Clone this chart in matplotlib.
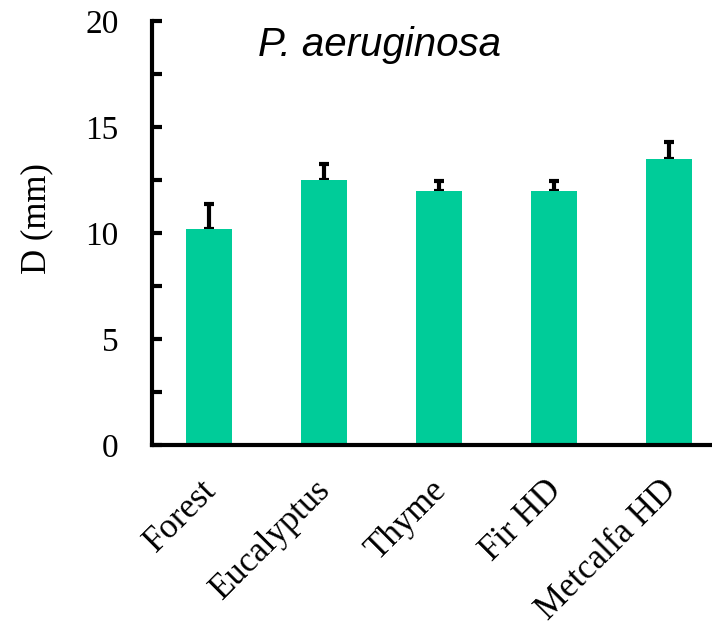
import numpy as np
import matplotlib
matplotlib.use("Agg")
from matplotlib import pyplot as plt
from matplotlib.transforms import ScaledTranslation

categories = ["Forest", "Eucalyptus", "Thyme", "Fir HD", "Metcalfa HD"]
values = [10.2, 12.5, 12.0, 12.0, 13.5]
errors = [1.15, 0.75, 0.45, 0.45, 0.8]
bar_color = "#00CC99"

fig = plt.figure(figsize=(7.12, 6.25), dpi=100)
ax = fig.add_axes([152 / 712, 1 - 445 / 625, 560 / 712, 424 / 625])

x = np.arange(len(categories))
ax.bar(x, values, width=0.4, color=bar_color, zorder=2)
ax.errorbar(x, values, yerr=[np.zeros(len(errors)), errors], fmt="none",
            ecolor="black", elinewidth=3, capsize=3.5, capthick=3, zorder=1)

ax.set_xlim(-0.5, 4.37)
ax.set_ylim(0, 20)

for side in ["top", "right"]:
  ax.spines[side].set_visible(False)
ax.spines["left"].set_linewidth(3)
ax.spines["bottom"].set_linewidth(3)

ax.set_yticks([0, 5, 10, 15, 20])
ax.set_yticks([2.5, 7.5, 12.5, 17.5], minor=True)
ax.tick_params(axis="y", which="both", direction="in", length=7, width=3, pad=24)
ax.tick_params(axis="x", length=0, pad=12)

serif = "Liberation Serif"
for lab in ax.get_yticklabels():
  lab.set_fontfamily(serif)
  lab.set_fontsize(24)

ax.set_xticks(x)
ax.set_xticklabels(categories, rotation=45, ha="right", va="top",
                   rotation_mode="anchor", fontfamily=serif, fontsize=25)
# nudge the slanted labels back along their baseline
shift = ScaledTranslation(-0.10, -0.12, fig.dpi_scale_trans)
for lab in ax.get_xticklabels():
  lab.set_transform(lab.get_transform() + shift)

ax.set_ylabel("D (mm)", fontfamily=serif, fontsize=25)
ax.yaxis.set_label_coords(-0.177, 0.533)

ax.text(0.189, 0.917, "P. aeruginosa", transform=ax.transAxes,
        fontfamily="Liberation Sans", fontstyle="italic", fontsize=29,
        ha="left", va="baseline")

fig.savefig("out.png", dpi=100)
